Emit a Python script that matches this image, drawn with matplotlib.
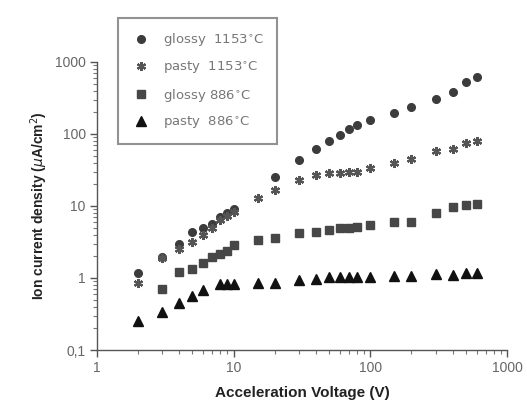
import matplotlib
matplotlib.use("Agg")
import matplotlib.pyplot as plt
from matplotlib.ticker import LogLocator, FixedLocator, FixedFormatter, NullFormatter
from matplotlib.lines import Line2D

plt.rcParams['font.family'] = ['Liberation Sans', 'DejaVu Sans']

# glossy 1153 C (circles)
v_g1153 = [2, 3, 4, 5, 6, 7, 8, 9, 10, 20, 30, 40, 50, 60, 70, 80, 100, 150, 200, 300, 400, 500, 600]
j_g1153 = [1.18, 1.97, 3.0, 4.4, 4.9, 5.7, 7.1, 7.9, 9.0, 25, 44, 61, 80, 96, 117, 133, 156, 194, 240, 305, 385, 530, 620]

# pasty 1153 C (asterisks)
v_p1153 = [2, 3, 4, 5, 6, 7, 8, 9, 10, 15, 20, 30, 40, 50, 60, 70, 80, 100, 150, 200, 300, 400, 500, 600]
j_p1153 = [0.84, 1.9, 2.5, 3.2, 4.0, 4.9, 6.3, 7.3, 8.2, 12.8, 16.7, 23, 27, 28.5, 29, 29.5, 30, 34, 40, 44.5, 58, 61, 75, 80]

# glossy 886 C (squares)
v_g886 = [3, 4, 5, 6, 7, 8, 9, 10, 15, 20, 30, 40, 50, 60, 70, 80, 100, 150, 200, 300, 400, 500, 600]
j_g886 = [0.70, 1.22, 1.32, 1.63, 1.98, 2.15, 2.37, 2.87, 3.37, 3.55, 4.17, 4.3, 4.6, 4.9, 4.95, 5.15, 5.45, 5.94, 6.05, 7.9, 9.6, 10.3, 10.6]

# pasty 886 C (triangles)
v_p886 = [2, 3, 4, 5, 6, 8, 9, 10, 15, 20, 30, 40, 50, 60, 70, 80, 100, 150, 200, 300, 400, 500, 600]
j_p886 = [0.25, 0.34, 0.445, 0.56, 0.68, 0.82, 0.82, 0.82, 0.84, 0.86, 0.94, 0.97, 1.02, 1.02, 1.02, 1.02, 1.04, 1.05, 1.06, 1.14, 1.1, 1.18, 1.18]

labels = ["glossy  1153$^{\\circ}$C", "pasty  1153$^{\\circ}$C", "glossy 886$^{\\circ}$C", "pasty  886$^{\\circ}$C"]
x_ticks = [1, 10, 100, 1000]
x_ticklabels = ["1", "10", "100", "1000"]
y_ticks = [0.1, 1, 10, 100, 1000]
y_ticklabels = ["0,1", "1", "10", "100", "1000"]

fig = plt.figure(figsize=(5.27, 4.03), dpi=100)
ax = fig.add_axes([0.184, 0.1315, 0.778, 0.715])

c_circ = '#3c3c3c'
c_ast = '#555555'
c_sq = '#474747'
c_tri = '#111111'

ax.plot(v_g1153, j_g1153, linestyle='none', marker='o', ms=5.5, color=c_circ, mec=c_circ)
ax.plot(v_p1153, j_p1153, linestyle='none', marker=(6, 2, 0), ms=6.5, mew=1.6, color=c_ast)
ax.plot(v_g886, j_g886, linestyle='none', marker='s', ms=5.5, color=c_sq, mec=c_sq)
ax.plot(v_p886, j_p886, linestyle='none', marker='^', ms=6.5, color=c_tri, mec=c_tri)

ax.set_xscale('log')
ax.set_yscale('log')
ax.set_xlim(1, 1000)
ax.set_ylim(0.1, 1000)

ax.spines['top'].set_visible(False)
ax.spines['right'].set_visible(False)
for s in ['left', 'bottom']:
    ax.spines[s].set_color('#555555')
    ax.spines[s].set_linewidth(1.0)

ax.xaxis.set_major_locator(FixedLocator(x_ticks))
ax.xaxis.set_major_formatter(FixedFormatter(x_ticklabels))
ax.yaxis.set_major_locator(FixedLocator(y_ticks))
ax.yaxis.set_major_formatter(FixedFormatter(y_ticklabels))
ax.xaxis.set_minor_locator(LogLocator(base=10, subs=range(2, 10)))
ax.yaxis.set_minor_locator(LogLocator(base=10, subs=range(2, 10)))
ax.xaxis.set_minor_formatter(NullFormatter())
ax.yaxis.set_minor_formatter(NullFormatter())

ax.tick_params(which='major', direction='out', length=5, width=1, color='#555555',
               labelsize=10, labelcolor='#666666', pad=3)
ax.tick_params(which='minor', direction='out', length=3, width=0.8, color='#777777')

ax.set_xlabel("Acceleration Voltage (V)", fontsize=11, fontweight='bold', color='#222222', labelpad=8)
ax.set_ylabel("Ion current density ($\\mu$A/cm$^2$)", fontsize=10, fontweight='bold', color='#222222')
ax.yaxis.set_label_coords(-0.115, 0.5)

handles = [
    Line2D([], [], linestyle='none', marker='o', ms=5.5, color=c_circ),
    Line2D([], [], linestyle='none', marker=(6, 2, 0), ms=6.5, mew=1.6, color=c_ast),
    Line2D([], [], linestyle='none', marker='s', ms=5.5, color=c_sq),
    Line2D([], [], linestyle='none', marker='^', ms=6.5, color=c_tri),
]
leg = fig.legend(handles, labels, loc='upper left', bbox_to_anchor=(118/527, 1 - 18/403),
                 borderaxespad=0, prop={'family': 'DejaVu Sans', 'size': 9.5},
                 frameon=True, fancybox=False, edgecolor='#777777',
                 labelspacing=0.85, handletextpad=0.9, borderpad=1.0, handlelength=1.5)
leg.get_frame().set_linewidth(1.5)
for t in leg.get_texts():
    t.set_color('#777777')

fig.savefig("out.png", dpi=100)
